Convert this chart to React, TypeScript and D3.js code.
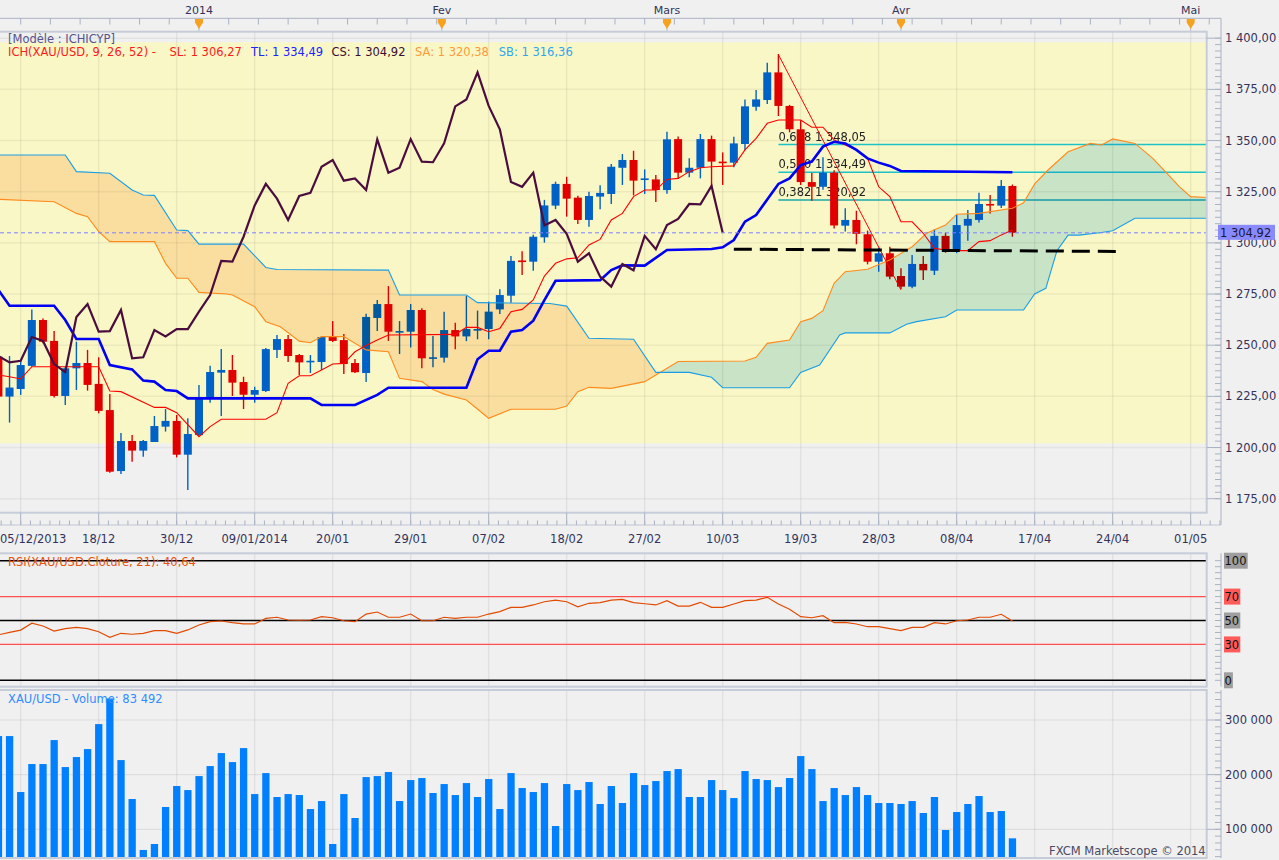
import * as d3 from "d3";

// ---- data (bar index 0 = leftmost, partly hidden candle) ----
const opens = [1244.4, 1224.9, 1228.6, 1239.9, 1262.3, 1252.1, 1225.2, 1238.7, 1241.3, 1231.1, 1218.3, 1188.5, 1203.2, 1198.5, 1202.7, 1210.2, 1213.0, 1196.5, 1206.1, 1223.7, 1236.6, 1237.9, 1232.0, 1225.8, 1227.6, 1247.7, 1253.0, 1245.2, 1242.2, 1241.8, 1254.0, 1252.5, 1241.3, 1236.4, 1263.3, 1270.1, 1256.6, 1256.6, 1267.2, 1243.7, 1243.9, 1257.4, 1254.3, 1257.6, 1257.9, 1267.5, 1274.2, 1291.4, 1290.8, 1302.7, 1318.2, 1328.8, 1322.1, 1311.2, 1322.6, 1323.9, 1336.7, 1340.5, 1330.7, 1331.0, 1325.8, 1350.7, 1334.3, 1336.7, 1350.7, 1339.7, 1339.2, 1348.3, 1366.5, 1369.8, 1383.3, 1366.9, 1355.5, 1329.7, 1327.4, 1334.3, 1308.4, 1311.2, 1304.2, 1290.8, 1294.9, 1283.8, 1278.6, 1289.7, 1286.4, 1303.4, 1296.5, 1308.4, 1311.2, 1319.0, 1318.2, 1327.8];
const highs = [1247, 1244.7, 1243, 1267.5, 1263.1, 1256.9, 1239.2, 1251.7, 1247.7, 1244.1, 1226.2, 1207.1, 1206.1, 1203.7, 1215.4, 1218.8, 1215.9, 1214.3, 1230.6, 1239.9, 1248.1, 1245.2, 1234.6, 1229.7, 1248.6, 1255, 1255, 1245.7, 1245.2, 1254.5, 1261.8, 1255.5, 1243.3, 1265.4, 1272.1, 1278.9, 1261.8, 1270.1, 1268, 1254.5, 1266.4, 1261, 1274, 1266.9, 1271.3, 1277.3, 1293.6, 1295.9, 1304, 1321, 1329.9, 1332.3, 1323, 1325, 1328.1, 1338.5, 1343.4, 1345, 1335.9, 1333.2, 1354.3, 1352, 1341.3, 1353.2, 1352.4, 1344.2, 1351.9, 1370.1, 1374.7, 1388, 1392.3, 1367.4, 1360, 1334.3, 1341.8, 1335.5, 1316.9, 1315.7, 1306, 1297.8, 1298.1, 1287.6, 1294.1, 1293.6, 1306.6, 1305, 1313.6, 1316, 1324.5, 1323.4, 1330.7, 1328.5];
const lows = [1222, 1212.2, 1225.7, 1239.5, 1250.9, 1224.5, 1220.8, 1228.1, 1227.8, 1216.7, 1187.7, 1187.1, 1193.1, 1195.5, 1202.7, 1207.8, 1195.2, 1179.3, 1205.6, 1221.9, 1215.4, 1225.2, 1218.8, 1221.9, 1227.1, 1243.7, 1241.8, 1235.4, 1236.4, 1237.9, 1251.6, 1235.9, 1236.4, 1232, 1256.9, 1252.1, 1245.7, 1248.9, 1238.7, 1239.2, 1241.5, 1248, 1252, 1252.9, 1252.9, 1265.2, 1270.8, 1284.3, 1286.4, 1300.1, 1316.5, 1312.8, 1309.2, 1307.9, 1316.4, 1319, 1328.3, 1323.2, 1323.9, 1320, 1324, 1331.5, 1332, 1331.5, 1327, 1328.3, 1337, 1345.4, 1364.6, 1367.8, 1362, 1354, 1328.3, 1320.6, 1326, 1307, 1305.5, 1299.3, 1289.5, 1285.9, 1282.2, 1277.5, 1277.8, 1281.9, 1284.3, 1295.2, 1295, 1301, 1310, 1314.4, 1317, 1303];
const closes = [1224.9, 1229.3, 1240.3, 1262.3, 1251.7, 1225.2, 1238.7, 1241.3, 1230.6, 1217.9, 1188.2, 1203.2, 1198.5, 1203.2, 1210.5, 1213.0, 1196.5, 1206.6, 1224.7, 1236.9, 1237.9, 1231.7, 1225.8, 1228.1, 1248.1, 1253.0, 1244.7, 1241.6, 1242.4, 1254.0, 1252.1, 1240.8, 1236.8, 1263.8, 1270.1, 1256.6, 1256.9, 1267.2, 1243.6, 1244.1, 1257.4, 1254.3, 1257.9, 1257.9, 1266.4, 1274.5, 1291.2, 1290.8, 1303.0, 1318.3, 1328.8, 1321.6, 1311.2, 1322.9, 1324.4, 1337.2, 1340.5, 1330.4, 1331.5, 1325.8, 1350.6, 1334.3, 1336.7, 1350.7, 1339.7, 1339.4, 1348.6, 1366.7, 1370.1, 1383.3, 1366.9, 1355.5, 1329.7, 1327.4, 1334.3, 1308.5, 1311.2, 1304.4, 1290.8, 1294.9, 1283.5, 1278.6, 1289.7, 1286.6, 1303.4, 1296.9, 1308.7, 1311.7, 1319.0, 1318.8, 1327.8, 1304.92];
const volumes = [270600, 270600, 168200, 219400, 219400, 263300, 213900, 232200, 246800, 292500, 339500, 226700, 155400, 62200, 73100, 140800, 179200, 171800, 197400, 215700, 239500, 223000, 248600, 164500, 202900, 159100, 164500, 162700, 137100, 151700, 73100, 164500, 120700, 195600, 197400, 204800, 151700, 190100, 193800, 166400, 182800, 162700, 184600, 159100, 192000, 137100, 202900, 175500, 168200, 184600, 106000, 182800, 171800, 186500, 146300, 179200, 148100, 202900, 181000, 188300, 206600, 210200, 159100, 159100, 190100, 171800, 157200, 206600, 192000, 190100, 177300, 193800, 234000, 210200, 151700, 175500, 162700, 177300, 162700, 148100, 148100, 146300, 151700, 129800, 159100, 98700, 131600, 146300, 160900, 131600, 133500, 83492];
const rsiValues = [38, 40, 42, 47.7, 45.4, 41.2, 43.2, 44.3, 43.2, 40.6, 35.9, 39.3, 38.5, 39.3, 41.5, 41.5, 39.3, 42.1, 46.2, 49, 49.6, 48.2, 47.1, 47.1, 51.8, 52.7, 50.4, 50.2, 50.4, 53.2, 52.3, 49.8, 49, 55.4, 57.1, 52.7, 52.7, 55.4, 49.8, 49.8, 52.7, 51.8, 52.7, 52.7, 55.4, 57.4, 61, 61, 63, 65.7, 67.1, 65.7, 61.5, 64.4, 64.9, 67.1, 67.7, 64.9, 64, 63, 66.6, 62.1, 62.1, 65.2, 61, 61, 63.8, 66.6, 67.1, 69.4, 63.8, 59.4, 53.2, 52.3, 54, 48.2, 48.5, 47.1, 44.8, 44.8, 43.2, 41.5, 44.3, 44.3, 48.2, 47.1, 49.8, 50.4, 52.7, 52.7, 55.2, 49.6];

// Ichimoku lines, [bar, price] vertices
const tenkan: [number, number][] = [[0, 1235.4], [1, 1234.6], [2, 1233.5], [3, 1239.5], [9, 1239.5], [10, 1227.6], [11, 1227.3], [14, 1219.6], [15, 1219.6], [16, 1217], [18, 1205.3], [19, 1210.2], [20, 1213.8], [24, 1213.8], [25, 1217], [26, 1231.4], [27, 1235.1], [28, 1235.1], [29, 1237.9], [30, 1240.8], [31, 1241.1], [32, 1246.8], [33, 1249.8], [34, 1252.5], [35, 1255], [41, 1255.3], [42, 1258.7], [43, 1258.7], [44, 1256.6], [45, 1258.2], [46, 1266.4], [47, 1267.5], [48, 1272.1], [49, 1283.8], [50, 1290], [51, 1292.2], [52, 1292.7], [53, 1299], [54, 1301.7], [55, 1311.2], [56, 1314.4], [57, 1322.6], [58, 1325.8], [59, 1325.8], [60, 1331], [61, 1331.5], [62, 1334.8], [63, 1336.7], [64, 1337.2], [66, 1337.6], [67, 1345.4], [68, 1351.1], [69, 1358.4], [70, 1360], [72, 1360], [73, 1356.5], [74, 1356.5], [75, 1350.3], [76, 1347.8], [77, 1345.4], [78, 1341.3], [79, 1327.4], [80, 1322.6], [81, 1310.3], [82, 1310.3], [83, 1304.7], [84, 1297.3], [85, 1296.5], [86, 1296.2], [87, 1296.2], [88, 1300.6], [89, 1301.1], [90, 1303.9], [91, 1306.27]];
const kijun: [number, number][] = [[0, 1277], [1, 1269.3], [5, 1269.3], [6, 1262.3], [7, 1253], [9, 1253], [10, 1240.3], [12, 1238.2], [13, 1232.7], [14, 1232.2], [15, 1228.1], [16, 1227.6], [17, 1224], [28, 1224], [29, 1220.8], [32, 1220.8], [34, 1225.7], [35, 1229.2], [42, 1229.2], [43, 1243.1], [44, 1247.3], [45, 1247.3], [46, 1256.6], [47, 1257.4], [48, 1262], [49, 1272], [50, 1281.5], [54, 1281.8], [55, 1286.7], [56, 1289], [58, 1288.9], [60, 1296.5], [64, 1297], [65, 1297.8], [66, 1301.4], [67, 1310.4], [68, 1313.6], [70, 1328.8], [71, 1331.5], [72, 1338], [73, 1339.7], [74, 1347], [75, 1349.4], [76, 1348.6], [77, 1345.4], [78, 1341.3], [79, 1339.2], [80, 1337.6], [81, 1335.1], [91, 1334.49]];
const senkouA: [number, number][] = [[0, 1321.3], [5, 1320.1], [7, 1314.4], [8, 1312.8], [9, 1305.5], [10, 1300.6], [14, 1300.6], [15, 1290], [16, 1282.7], [17, 1282.7], [18, 1275.8], [20.5, 1275], [21, 1274.5], [23, 1268.8], [24, 1261.5], [25.3, 1259], [27, 1252], [28, 1251.2], [29, 1254.2], [31, 1254.2], [33, 1247.7], [35, 1246.8], [36, 1233.8], [38, 1232.2], [39, 1228.4], [40, 1226.1], [42, 1223.2], [44, 1214.3], [46, 1218.7], [50, 1218.7], [51, 1220.3], [52, 1227.3], [53, 1229.4], [55, 1228.9], [58, 1232.2], [59, 1235.4], [61, 1242], [67, 1242.3], [68, 1244.1], [69, 1250.9], [71, 1252.5], [72, 1261.5], [73, 1263.1], [74, 1266.9], [75, 1280.2], [76, 1285.9], [78, 1287.1], [80, 1291.6], [82, 1298.1], [83.3, 1304.7], [85, 1308.7], [86, 1314], [88, 1314.4], [91, 1316.9], [92, 1319.6], [93, 1328.8], [94.2, 1335.6], [96, 1344.5], [98, 1348.6], [99, 1347.8], [100, 1350.8], [102, 1348.6], [103.6, 1341.3], [105, 1333.2], [106, 1327.4], [107, 1322.6], [109, 1322]];
const senkouB: [number, number][] = [[0, 1342.9], [6, 1342.9], [7, 1334.8], [10, 1334], [12, 1325.8], [13, 1323.4], [14, 1323.2], [16, 1306.3], [17, 1306], [18, 1299.4], [22, 1299.4], [24, 1288], [25, 1287], [35, 1286.7], [36, 1274.5], [42, 1274.5], [43, 1270.8], [49.5, 1270.4], [51, 1269.1], [53, 1253.4], [57, 1252.9], [59, 1236.7], [62, 1236.7], [64, 1234.3], [65, 1229.2], [71, 1229.2], [72, 1236.7], [73.7, 1240.3], [75.5, 1255], [76, 1256], [80, 1256], [81.5, 1260.2], [82.4, 1261.5], [85, 1263.9], [86, 1267.2], [92, 1267.2], [93, 1275], [94, 1277.8], [95, 1296.2], [96, 1303.8], [97, 1303.8], [99, 1305.1], [100, 1305.9], [102, 1312], [109, 1312]];
const chikouShift = 26;
const cloudTwist = 59.3;

// retracement
const fibStart: [number, number] = [70, 1391.97];
const fibEnd: [number, number] = [81, 1277.01];
const fibRatios = ["0,618", "0,500", "0,382"];
const fibPrices = [1348.05, 1334.49, 1320.92];
const supportLine: [number, number][] = [[66, 1296.9], [101, 1295.8]];
const lastPrice = 1304.92;
const yellowBand = [1202, 1398];

// axes
const priceTicks = [1175, 1200, 1225, 1250, 1275, 1300, 1325, 1350, 1375, 1400];
const dateTickBars = [2, 9, 16, 23, 30, 37, 44, 51, 58, 65, 72, 79, 86, 93, 100, 107];
const dateLabels = ["05/12/2013", "18/12", "30/12", "09/01/2014", "20/01", "29/01", "07/02", "18/02", "27/02", "10/03", "19/03", "28/03", "08/04", "17/04", "24/04", "01/05"];
const monthBars = [18, 39.8, 60, 81, 107];
const monthLabels = ["2014", "Fev", "Mars", "Avr", "Mai"];
const rsiLevels = [100, 70, 50, 30, 0];
const volumeTicks = [100000, 200000, 300000];

const FONT = "'DejaVu Sans', Verdana, sans-serif";
const BLUE = "#0061c6";
const RED = "#e10000";
const AXIS_TXT = "#33335c";

const fr = d3.formatLocale({ decimal: ",", thousands: " ", grouping: [3], currency: ["", ""] });
const fmtPrice = fr.format(",.2f");
const fmtVol = fr.format(",.0f");

const plotR = 1206.7;
const axisX = 1221;
const main = { top: 31.7, bottom: 512.7 };
const rsiBox = { top: 553.3, bottom: 686.7 };
const volBox = { top: 690, bottom: 858 };

export default function App() {
  const x = d3.scaleLinear().domain([0, 91]).range([-1.6, 1012.4]);
  const y = d3.scaleLinear().domain([1175, 1400]).range([498.7, 38.2]);
  const yR = d3.scaleLinear().domain([0, 100]).range([680.3, 560.7]);
  const yV = d3.scaleLinear().domain([100000, 300000]).range([829.3, 720]);

  const line = d3.line<[number, number]>().x((d) => x(d[0])).y((d) => y(d[1]));
  const cloud = line([...senkouA, ...senkouB.slice().reverse()]) + "Z";
  const chikou = line(closes.map((c, i) => [i - chikouShift, c] as [number, number]));
  const rsiPath = d3.line<number>().x((_, i) => x(i)).y((d) => yR(d))(rsiValues);

  const minorDate = d3.range(-5, 110, 7 / 8).map((b) => x(b)).filter((v) => v > 0 && v < axisX);
  const topTicks = d3.range(2, 112, 8 / 3).map((b) => x(b)).filter((v) => v < axisX);
  const priceMinor = d3.range(1175, 1403, 25 / 8);
  const rsiMinor = d3.range(0, 101, 5);
  const volMinor = d3.range(50000, 350001, 12500);

  const vGrid = (top: number, bottom: number) =>
    dateTickBars.map((b) => (
      <line key={b} x1={x(b)} x2={x(b)} y1={top} y2={bottom} stroke="#000" strokeOpacity={0.06} strokeWidth={1.5} />
    ));

  return (
    <div style={{ position: "fixed", left: 0, top: 0 }}>
      <svg width={1279} height={860} style={{ display: "block", fontFamily: FONT }}>
        <defs>
          <clipPath id="mainClip">
            <rect x={0} y={main.top} width={plotR} height={main.bottom - main.top} />
          </clipPath>
          <clipPath id="orangeClip">
            <rect x={0} y={0} width={x(cloudTwist)} height={860} />
          </clipPath>
          <clipPath id="greenClip">
            <rect x={x(cloudTwist)} y={0} width={1279} height={860} />
          </clipPath>
          <clipPath id="rsiClip">
            <rect x={0} y={rsiBox.top} width={plotR} height={rsiBox.bottom - rsiBox.top} />
          </clipPath>
          <clipPath id="volClip">
            <rect x={0} y={volBox.top} width={plotR} height={volBox.bottom - volBox.top} />
          </clipPath>
        </defs>
        <rect width={1279} height={860} fill="#f0f0f0" />

        {/* top time axis */}
        <line x1={0} x2={axisX} y1={18.3} y2={18.3} stroke="#aab2c2" />
        {topTicks.map((t, i) => (
          <line key={i} x1={t} x2={t} y1={18.3} y2={24.5} stroke="#aab2c2" />
        ))}
        {monthBars.map((b, i) => (
          <g key={b}>
            <line x1={x(b)} x2={x(b)} y1={18.3} y2={32} stroke="#b8bcc6" />
            <path d={`M${x(b) - 4},19 H${x(b) + 4} V22.5 L${x(b)},29 L${x(b) - 4},22.5 Z`} fill="#f7a21e" />
            <text x={x(b)} y={13.5} fontSize={11} fill={AXIS_TXT} textAnchor="middle">{monthLabels[i]}</text>
          </g>
        ))}
        <line x1={axisX} x2={axisX} y1={18.3} y2={525} stroke="#aab2c2" />

        {/* main panel */}
        <g clipPath="url(#mainClip)">
          <rect x={0} y={y(yellowBand[1])} width={plotR} height={y(yellowBand[0]) - y(yellowBand[1])} fill="#f9f7c6" />
          {priceTicks.map((p) => (
            <line key={p} x1={0} x2={plotR} y1={y(p)} y2={y(p)} stroke="#000" strokeOpacity={0.05} strokeWidth={1.5} />
          ))}
          {vGrid(main.top, main.bottom)}

          {fibPrices.map((p, i) => (
            <g key={p}>
              <line x1={x(fibStart[0])} x2={plotR} y1={y(p)} y2={y(p)} stroke={i === 2 ? "#1aa8a8" : "#1dc2c6"} strokeWidth={1.4} />
              <text x={x(fibStart[0])} y={y(p) - 4} fontSize={11.5} fill="#222">{`${fibRatios[i]} ${fmtPrice(p)}`}</text>
            </g>
          ))}

          {opens.map((o, i) => {
            const c = closes[i];
            const col = c >= o ? BLUE : RED;
            const top = y(Math.max(o, c));
            const bot = y(Math.min(o, c));
            return (
              <g key={i}>
                <line x1={x(i)} x2={x(i)} y1={y(highs[i])} y2={y(lows[i])} stroke={col} strokeWidth={1.4} />
                <rect x={x(i) - 4} y={top} width={8} height={Math.max(bot - top, 1.6)} fill={col} />
              </g>
            );
          })}

          <path d={cloud} fill="#ffe6cd" clipPath="url(#orangeClip)" style={{ mixBlendMode: "multiply" }} />
          <path d={cloud} fill="#cdebff" clipPath="url(#greenClip)" style={{ mixBlendMode: "multiply" }} />
          <path d={line(senkouA)!} fill="none" stroke="#ff8a1c" strokeWidth={1.1} />
          <path d={line(senkouB)!} fill="none" stroke="#1b9ee6" strokeWidth={1.1} />

          <path d={line([fibStart, fibEnd])!} fill="none" stroke="#f00" strokeWidth={1} />
          <path d={line(tenkan)!} fill="none" stroke="#ff0000" strokeWidth={1.1} />
          <path d={line(kijun)!} fill="none" stroke="#0000f5" strokeWidth={2.6} />
          <path d={chikou!} fill="none" stroke="#4a0d3e" strokeWidth={2.2} />

          <path d={line(supportLine)!} fill="none" stroke="#000" strokeWidth={3} strokeDasharray="18 8" />
          <line x1={0} x2={plotR} y1={y(lastPrice)} y2={y(lastPrice)} stroke="#8080ff" strokeWidth={1} strokeDasharray="4 3" />
        </g>
        <rect x={-1} y={main.top} width={plotR + 1} height={main.bottom - main.top} fill="none" stroke="#c6cdd9" strokeWidth={2} />

        <text x={8} y={43} fontSize={11.5} fill="#55558a">[Modèle : ICHICYP]</text>
        <text y={56} fontSize={11.5}>
          <tspan x={8} fill="#ff1a1a">ICH(XAU/USD, 9, 26, 52) -</tspan>
          <tspan x={169.4} fill="#ff1a1a">{`SL: ${fmtPrice(tenkan[tenkan.length - 1][1])}`}</tspan>
          <tspan x={251} fill="#2222ff">{`TL: ${fmtPrice(kijun[kijun.length - 1][1])}`}</tspan>
          <tspan x={331.4} fill="#3c0d32">{`CS: ${fmtPrice(lastPrice)}`}</tspan>
          <tspan x={415} fill="#ff9a3c">SA: 1 320,38</tspan>
          <tspan x={498.8} fill="#2ea6ec">SB: 1 316,36</tspan>
        </text>

        {/* price axis */}
        {priceMinor.map((p) => (
          <line key={p} x1={axisX - 6} x2={axisX} y1={y(p)} y2={y(p)} stroke="#aab2c2" />
        ))}
        {priceTicks.map((p) => (
          <g key={p}>
            <line x1={plotR} x2={axisX} y1={y(p)} y2={y(p)} stroke="#aab2c2" />
            <text x={1225} y={y(p) + 4} fontSize={11.5} fill={AXIS_TXT}>{fmtPrice(p)}</text>
          </g>
        ))}
        <rect x={1218} y={y(lastPrice) - 8} width={57} height={15} fill="#8a8aff" />
        <text x={1220} y={y(lastPrice) + 4} fontSize={11.5} fill="#181838">{fmtPrice(lastPrice)}</text>

        {/* date axis */}
        <line x1={0} x2={axisX} y1={525} y2={525} stroke="#c0c6d2" />
        {minorDate.map((t, i) => (
          <line key={i} x1={t} x2={t} y1={520.5} y2={525} stroke="#aab2c2" />
        ))}
        {dateTickBars.map((b, i) => (
          <g key={b}>
            <line x1={x(b)} x2={x(b)} y1={main.bottom} y2={525} stroke="#aab2c2" />
            <text x={i === 0 ? 0 : x(b)} y={543} fontSize={11.5} fill={AXIS_TXT} textAnchor={i === 0 ? "start" : "middle"}>{dateLabels[i]}</text>
          </g>
        ))}

        {/* RSI panel */}
        <g clipPath="url(#rsiClip)">
          {vGrid(rsiBox.top, rsiBox.bottom)}
          {rsiLevels.map((v) => (
            <line key={v} x1={0} x2={plotR} y1={yR(v)} y2={yR(v)} stroke={v === 70 || v === 30 ? "#ff5050" : "#000"} strokeWidth={v === 70 || v === 30 ? 1.2 : 1.4} />
          ))}
          <path d={rsiPath!} fill="none" stroke="#e24a00" strokeWidth={1.2} />
        </g>
        <rect x={-1} y={rsiBox.top} width={plotR + 1} height={rsiBox.bottom - rsiBox.top} fill="none" stroke="#c6cdd9" strokeWidth={2} />
        <text x={8} y={566} fontSize={11.5} fill="#e8520c">RSI(XAU/USD.Cloture, 21): 40,64</text>
        <line x1={axisX} x2={axisX} y1={rsiBox.top} y2={rsiBox.bottom} stroke="#aab2c2" />
        {rsiMinor.map((v) => (
          <line key={v} x1={axisX - 6} x2={axisX} y1={yR(v)} y2={yR(v)} stroke="#aab2c2" />
        ))}
        {rsiLevels.map((v) => {
          const label = String(v);
          const red = v === 70 || v === 30;
          return (
            <g key={v}>
              <rect x={1224} y={yR(v) - 8} width={label.length * 7.4 + 1.5} height={16} fill={red ? "#ff5a5a" : "#9e9e9e"} />
              <text x={1224.5} y={yR(v) + 4.5} fontSize={11.5} fill="#111">{label}</text>
            </g>
          );
        })}

        {/* volume panel */}
        <g clipPath="url(#volClip)">
          {vGrid(volBox.top, volBox.bottom)}
          {volumeTicks.map((v) => (
            <line key={v} x1={0} x2={plotR} y1={yV(v)} y2={yV(v)} stroke="#000" strokeOpacity={0.07} strokeWidth={1.2} />
          ))}
          {volumes.map((v, i) => (
            <rect key={i} x={x(i) - 3.6} y={yV(v)} width={7.3} height={volBox.bottom - yV(v)} fill="#0080ff" />
          ))}
        </g>
        <rect x={-1} y={volBox.top} width={plotR + 1} height={volBox.bottom - volBox.top} fill="none" stroke="#c6cdd9" strokeWidth={2} />
        <text x={8} y={702.5} fontSize={11.5} fill="#2f8cff">{`XAU/USD - Volume: ${fmtVol(volumes[volumes.length - 1])}`}</text>
        <line x1={axisX} x2={axisX} y1={volBox.top} y2={volBox.bottom} stroke="#aab2c2" />
        {volMinor.map((v) => (
          <line key={v} x1={axisX - 6} x2={axisX} y1={yV(v)} y2={yV(v)} stroke="#aab2c2" />
        ))}
        {volumeTicks.map((v) => (
          <g key={v}>
            <line x1={plotR} x2={axisX} y1={yV(v)} y2={yV(v)} stroke="#aab2c2" />
            <text x={1225} y={yV(v) + 4} fontSize={11.5} fill={AXIS_TXT}>{fmtVol(v)}</text>
          </g>
        ))}
        <text x={plotR - 1} y={855} fontSize={11.5} fill="#4a4a62" textAnchor="end">FXCM Marketscope © 2014</text>
      </svg>
    </div>
  );
}
